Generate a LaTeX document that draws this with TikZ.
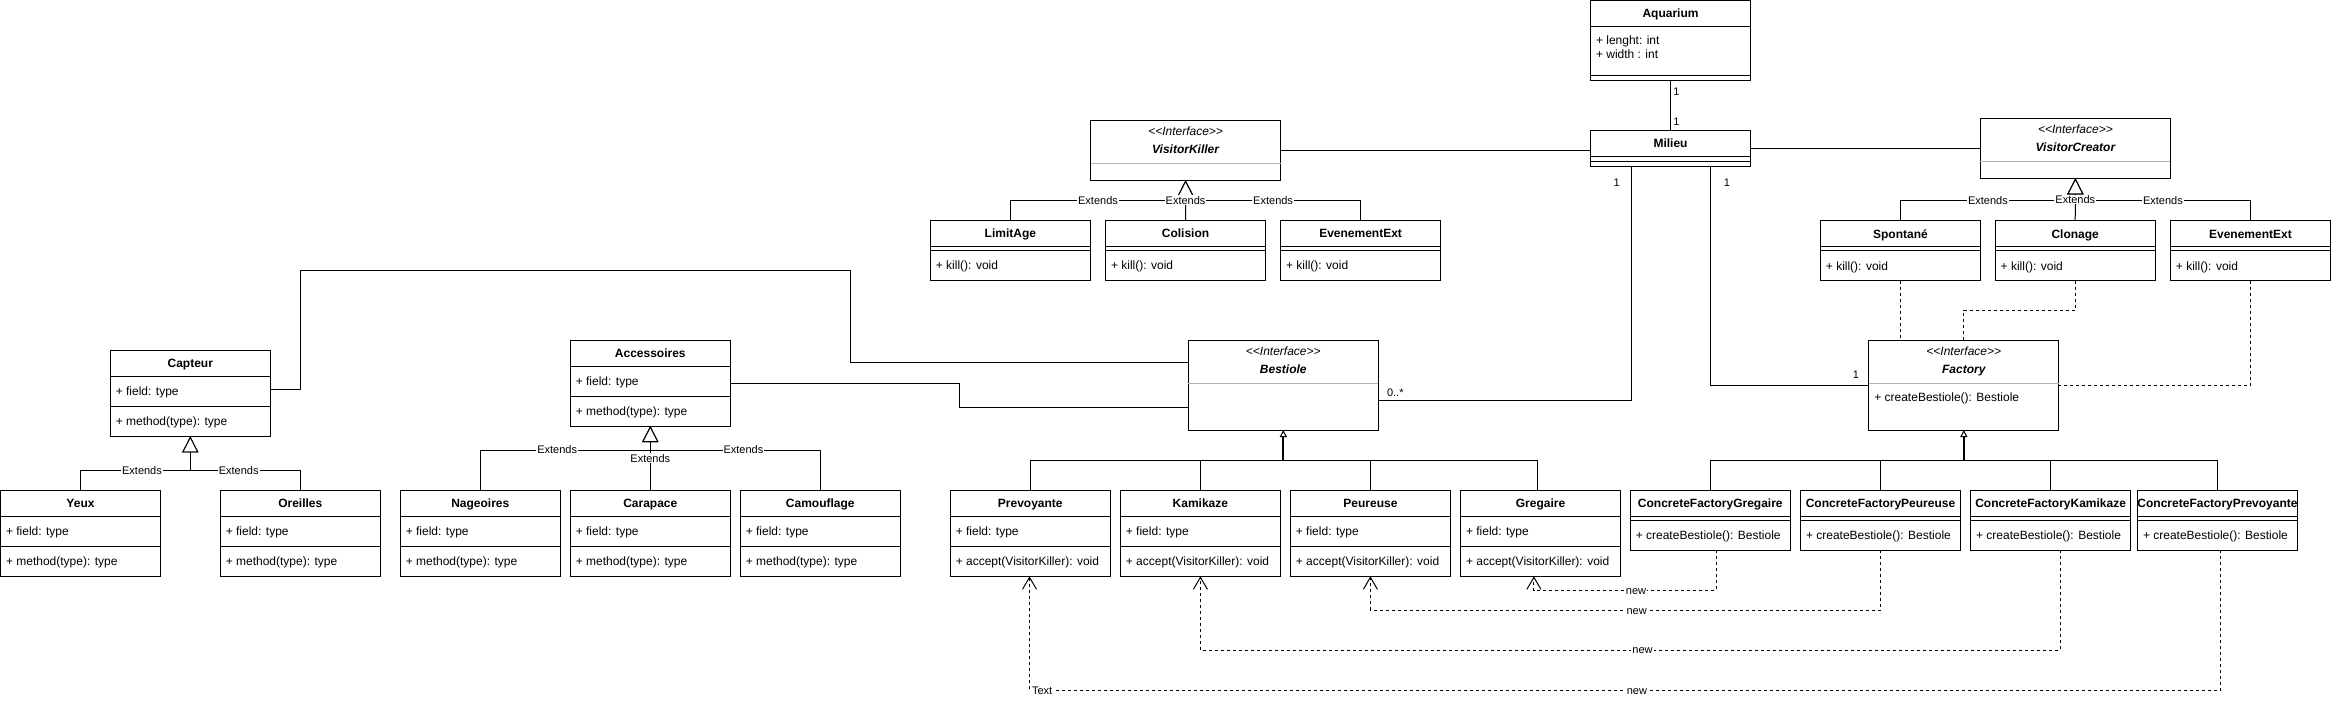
\documentclass[tikz,border=0pt]{standalone}
\usepackage{fontspec}
\setmainfont{Liberation Sans}
\usepackage{tikz}
\usetikzlibrary{arrows.meta}

\newcommand{\fullclass}[6]{%
    \node[classbox, minimum height=86pt] (#1) at (#2,#3) {};
    \node[classname] (#1-title) at ([yshift=-13pt]#1.north) {#4};
    \draw ([yshift=-26pt]#1.north west) -- ([yshift=-26pt]#1.north east);
    \node[member] (#1-field) at ([xshift=5pt, yshift=-41pt]#1.north west) {#5};
    \draw ([yshift=-56pt]#1.north west) -- ([yshift=-56pt]#1.north east);
    \node[member] (#1-method) at ([xshift=5pt, yshift=-71pt]#1.north west) {#6};
}
\newcommand{\opclass}[5]{%
    \node[classbox, minimum height=60pt] (#1) at (#2,#3) {};
    \node[classname] (#1-title) at ([yshift=-13pt]#1.north) {#4};
    \draw ([yshift=-26pt]#1.north west) -- ([yshift=-26pt]#1.north east);
    \draw ([yshift=-30pt]#1.north west) -- ([yshift=-30pt]#1.north east);
    \node[member] (#1-method) at ([xshift=5pt, yshift=-45pt]#1.north west) {#5};
}
\newcommand{\ifaceclass}[5]{%
    \node[classbox, minimum width=190pt, minimum height=#4pt] (#1) at (#2,#3) {};
    \node[stereo] (#1-stereo) at ([yshift=-11pt]#1.north) {<\kern0pt<Interface>\kern0pt>};
    \node[classname, font=\fontsize{12}{14}\selectfont\bfseries\itshape] (#1-title) at ([yshift=-29pt]#1.north) {#5};
    \draw[sepline] ([yshift=-43pt]#1.north west) -- ([yshift=-43pt]#1.north east);
}

\begin{document}
\begin{tikzpicture}[x=1pt, y=-1pt, line width=1pt,
    classbox/.style={draw, fill=white, anchor=north west, minimum width=160pt, inner sep=0pt, outer sep=0pt},
    classname/.style={font=\fontsize{12}{14}\selectfont\bfseries, inner sep=0pt, text height=8.6pt, text depth=0pt},
    member/.style={font=\fontsize{12}{14}\selectfont, anchor=west, inner sep=0pt, text height=8.6pt, text depth=0pt},
    stereo/.style={font=\fontsize{12}{14}\selectfont\itshape, inner sep=0pt, text height=8.6pt, text depth=0pt},
    sepline/.style={gray!60},
    lbl/.style={font=\fontsize{11}{13}\selectfont, fill=white, inner sep=1pt, text height=7.9pt, text depth=0pt},
    mult/.style={font=\fontsize{11}{13}\selectfont, inner sep=0pt, text height=7.9pt, text depth=0pt},
    extends/.style={-{Triangle[open, length=16pt, width=16pt, fill=white]}},
    inherit/.style={-{Triangle[open, length=7pt, width=7pt, fill=white, line width=1pt]}},
    newdep/.style={dash pattern=on 3pt off 3pt, -{Straight Barb[length=12pt, width=14pt]}},
    realize/.style={dash pattern=on 3pt off 3pt}]

    \useasboundingbox (0,0) rectangle (2331,705);

    \node[classbox, minimum height=80pt] (Aquarium) at (1590.5,0.5) {};
    \node[classname] (Aquarium-title) at ([yshift=-13pt]Aquarium.north) {Aquarium};
    \draw ([yshift=-26pt]Aquarium.north west) -- ([yshift=-26pt]Aquarium.north east);
    \node[member] (Aquarium-lenght) at ([xshift=5pt, yshift=-39.5pt]Aquarium.north west) {+ lenght: int};
    \node[member] (Aquarium-width) at ([xshift=5pt, yshift=-53.2pt]Aquarium.north west) {+ width : int};
    \draw ([yshift=-75pt]Aquarium.north west) -- ([yshift=-75pt]Aquarium.north east);

    \node[classbox, minimum height=36pt] (Milieu) at (1590.5,130.3) {};
    \node[classname] (Milieu-title) at ([yshift=-13pt]Milieu.north) {Milieu};
    \draw ([yshift=-26pt]Milieu.north west) -- ([yshift=-26pt]Milieu.north east);
    \draw ([yshift=-31pt]Milieu.north west) -- ([yshift=-31pt]Milieu.north east);

    \ifaceclass{VisitorKiller}{1090.6}{120.3}{60}{VisitorKiller}
    \ifaceclass{VisitorCreator}{1980.4}{118.3}{60}{VisitorCreator}
    \ifaceclass{Bestiole}{1188.3}{340}{90}{Bestiole}
    \ifaceclass{Factory}{1868.8}{340}{90}{Factory}
    \node[member] (Factory-method) at ([xshift=5pt, yshift=-57pt]Factory.north west) {+ createBestiole(): Bestiole};

    \opclass{LimitAge}{930.4}{220.3}{LimitAge}{+ kill(): void}
    \opclass{Colision}{1105.5}{220.3}{Colision}{+ kill(): void}
    \opclass{EvenementExt}{1280.6}{220.3}{EvenementExt}{+ kill(): void}
    \opclass{Spontane}{1820.4}{220.7}{Spontané}{+ kill(): void}
    \opclass{Clonage}{1995.2}{220.7}{Clonage}{+ kill(): void}
    \opclass{EvenementExtB}{2170.4}{220.7}{EvenementExt}{+ kill(): void}

    \fullclass{Capteur}{110.3}{350.3}{Capteur}{+ field: type}{+ method(type): type}
    \fullclass{Yeux}{0.5}{490}{Yeux}{+ field: type}{+ method(type): type}
    \fullclass{Oreilles}{220.3}{490}{Oreilles}{+ field: type}{+ method(type): type}
    \fullclass{Accessoires}{570.3}{340}{Accessoires}{+ field: type}{+ method(type): type}
    \fullclass{Nageoires}{400.3}{490.3}{Nageoires}{+ field: type}{+ method(type): type}
    \fullclass{Carapace}{570.3}{490.3}{Carapace}{+ field: type}{+ method(type): type}
    \fullclass{Camouflage}{740.3}{490.3}{Camouflage}{+ field: type}{+ method(type): type}

    \fullclass{Prevoyante}{950.3}{490.3}{Prevoyante}{+ field: type}{+ accept(VisitorKiller): void}
    \fullclass{Kamikaze}{1120.4}{490.3}{Kamikaze}{+ field: type}{+ accept(VisitorKiller): void}
    \fullclass{Peureuse}{1290.4}{490.3}{Peureuse}{+ field: type}{+ accept(VisitorKiller): void}
    \fullclass{Gregaire}{1460.5}{490.3}{Gregaire}{+ field: type}{+ accept(VisitorKiller): void}

    \opclass{CFGregaire}{1630.3}{490.3}{ConcreteFactoryGregaire}{+ createBestiole(): Bestiole}
    \opclass{CFPeureuse}{1800.5}{490.3}{ConcreteFactoryPeureuse}{+ createBestiole(): Bestiole}
    \opclass{CFKamikaze}{1970.6}{490.3}{ConcreteFactoryKamikaze}{+ createBestiole(): Bestiole}
    \opclass{CFPrevoyante}{2137.5}{490.3}{ConcreteFactoryPrevoyante}{+ createBestiole(): Bestiole}

    \draw (Aquarium.south) -- (Milieu.north) node[mult, pos=0, xshift=5.8pt, yshift=-11.5pt] {1} node[mult, pos=1, xshift=5.8pt, yshift=8.3pt] {1};
    \draw (VisitorKiller.east) -- (VisitorKiller.east -| Milieu.west);
    \draw (Milieu.east |- VisitorCreator.west) -- (VisitorCreator.west);
    \draw ([xshift=-39.5pt]Milieu.south) |- ([yshift=-15pt]Bestiole.east) node[mult, pos=0, xshift=-14.4pt, yshift=-16pt] {1} node[mult, pos=1, xshift=17pt, yshift=7.3pt] {0..*};
    \draw ([xshift=40.3pt]Milieu.south) |- (Factory.west) node[mult, pos=0, xshift=16pt, yshift=-16pt] {1} node[mult, pos=1, xshift=-12.8pt, yshift=10pt] {1};

    \draw ([yshift=4pt]Capteur.east) -- ++(30,0) |- (850,270) |- ([yshift=22.5pt]Bestiole.west);
    \draw (Accessoires.east) -| ([xshift=-228.6pt, yshift=-22pt]Bestiole.west) -- ([yshift=-22pt]Bestiole.west);

    \draw[realize] (Spontane.south) -- (Spontane.south |- Factory.north);
    \draw[realize] (Clonage.south) |- ([yshift=30pt]Factory.north) -- (Factory.north);
    \draw[realize] (EvenementExtB.south) |- (Factory.east);

    \draw[extends] (Yeux.north) |- ([yshift=-34pt]Capteur.south) node[lbl, pos=0.78] {Extends} -- (Capteur.south);
    \draw[extends] (Oreilles.north) |- ([yshift=-34pt]Capteur.south) node[lbl, pos=0.78] {Extends} -- (Capteur.south);

    \draw[extends] (Nageoires.north) |- ([yshift=-24pt]Accessoires.south) node[lbl, pos=0.726] {Extends} -- (Accessoires.south);
    \draw[extends] (Camouflage.north) |- ([yshift=-24pt]Accessoires.south) node[lbl, pos=0.726] {Extends} -- (Accessoires.south);
    \draw[extends] (Carapace.north) -- node[lbl] {Extends} (Accessoires.south);

    \draw[extends] (LimitAge.north) |- ([yshift=-20pt]VisitorKiller.south) node[lbl, pos=0.75] {Extends} -- (VisitorKiller.south);
    \draw[extends] (EvenementExt.north) |- ([yshift=-20pt]VisitorKiller.south) node[lbl, pos=0.75] {Extends} -- (VisitorKiller.south);
    \draw[extends] (Colision.north) -- node[lbl] {Extends} (VisitorKiller.south);

    \draw[extends] (Spontane.north) |- ([yshift=-22pt]VisitorCreator.south) node[lbl, pos=0.75] {Extends} -- (VisitorCreator.south);
    \draw[extends] (EvenementExtB.north) |- ([yshift=-22pt]VisitorCreator.south) node[lbl, pos=0.75] {Extends} -- (VisitorCreator.south);
    \draw[extends] (Clonage.north) -- node[lbl] {Extends} (VisitorCreator.south);

    \coordinate (bestjoin) at ([yshift=-30pt]Bestiole.south);
    \draw (Prevoyante.north) |- (bestjoin);
    \draw (Kamikaze.north) |- (bestjoin);
    \draw (Peureuse.north) |- (bestjoin);
    \draw ([xshift=-3.5pt]Gregaire.north) |- (bestjoin);
    \draw[inherit, line width=1.8pt] (bestjoin) -- (Bestiole.south);

    \coordinate (factjoin) at ([yshift=-30.4pt]Factory.south);
    \draw (CFGregaire.north) |- (factjoin);
    \draw (CFPeureuse.north) |- (factjoin);
    \draw (CFKamikaze.north) |- (factjoin);
    \draw (CFPrevoyante.north) |- (factjoin);
    \draw[inherit, line width=1.8pt] (factjoin) -- (Factory.south);

    \draw[newdep] ([xshift=6pt]CFGregaire.south) |- ([xshift=-6.6pt, yshift=-14pt]Gregaire.south) node[lbl, pos=0.72] {new} -- ([xshift=-6.6pt]Gregaire.south);
    \draw[newdep] (CFPeureuse.south) |- ([yshift=-34pt]Peureuse.south) node[lbl, pos=0.739] {new} -- (Peureuse.south);
    \draw[newdep] ([xshift=10pt]CFKamikaze.south) |- ([yshift=-73.7pt]Kamikaze.south) node[lbl, pos=0.743] {new} -- (Kamikaze.south);
    \draw[newdep] ([xshift=3pt]CFPrevoyante.south) |- ([xshift=-0.8pt, yshift=-114pt]Prevoyante.south) node[lbl, pos=0.745] {new} node[lbl, pos=1, anchor=west, xshift=1pt] {Text} -- ([xshift=-0.8pt]Prevoyante.south);
\end{tikzpicture}
\end{document}
